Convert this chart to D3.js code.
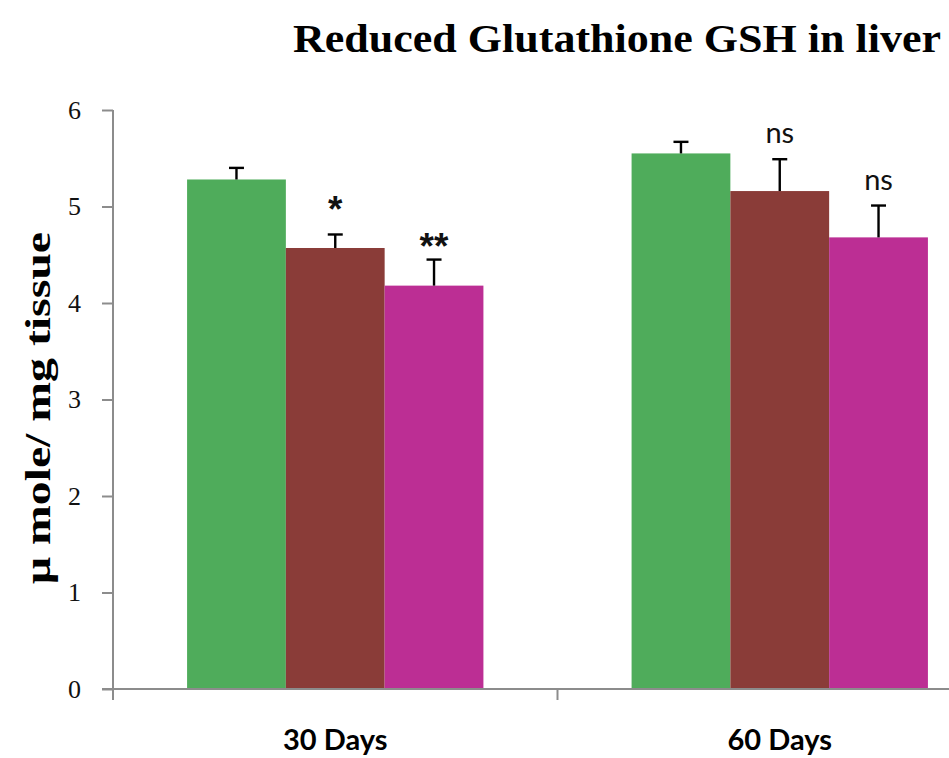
<!DOCTYPE html>
<html>
<head>
<meta charset="utf-8">
<script src="https://cdn.jsdelivr.net/npm/d3@7"></script>
<style>
  body { margin: 0; background: #fff; }
</style>
</head>
<body>
<svg id="canvas"></svg>
<script>
const periods = ["30 Days", "60 Days"];
const groups = ["g1", "g2", "g3"];
const meanValues = [
  [5.28, 4.57, 4.18],
  [5.55, 5.16, 4.68]
];
const errValues = [
  [0.12, 0.14, 0.27],
  [0.12, 0.33, 0.33]
];
const sigLabels = [
  ["", "*", "**"],
  ["", "ns", "ns"]
];
const yTicks = [0, 1, 2, 3, 4, 5, 6];
const colors = ["#4fac5b", "#8a3c38", "#bc2e94"];

const width = 949;
const height = 758;

const svg = d3.select("#canvas")
              .attr("width", width)
              .attr("height", height);

const x0 = d3.scaleBand()
             .domain(periods)
             .range([113, 1002])
             .paddingInner(0)
             .paddingOuter(0);

const x1 = d3.scaleBand()
             .domain(groups)
             .range([0, x0.bandwidth()])
             .paddingOuter(0.75);

const yScale = d3.scaleLinear()
                 .domain([0, 6])
                 .range([689, 110]);

// title
svg.append("text")
   .attr("x", 941)
   .attr("y", 52)
   .attr("text-anchor", "end")
   .attr("font-family", "Liberation Serif")
   .attr("font-weight", "bold")
   .attr("font-size", 41)
   .attr("textLength", 648)
   .attr("lengthAdjust", "spacingAndGlyphs")
   .text("Reduced Glutathione GSH in liver");

// y axis label
svg.append("text")
   .attr("transform", "translate(50, 408) rotate(-90)")
   .attr("text-anchor", "middle")
   .attr("font-family", "Liberation Serif")
   .attr("font-weight", "bold")
   .attr("font-size", 36)
   .attr("textLength", 352)
   .attr("lengthAdjust", "spacingAndGlyphs")
   .text("μ mole/ mg tissue");

// baseline offset above the error cap, per label type
const sigOffset = s => s === "*" ? 12 : s === "**" ? 1 : 16;

const gGroups = svg.selectAll(".period")
   .data(periods)
   .enter()
   .append("g")
   .attr("class", "period")
   .attr("transform", d => `translate(${x0(d)}, 0)`);

gGroups.each(function (p, i) {
  const g = d3.select(this);
  const rows = groups.map((k, j) => ({ k, j, v: meanValues[i][j], e: errValues[i][j], s: sigLabels[i][j] }));
  const cx = d => x1(d.k) + x1.bandwidth() / 2;

  g.selectAll("rect")
   .data(rows)
   .enter()
   .append("rect")
   .attr("x", d => x1(d.k))
   .attr("y", d => yScale(d.v))
   .attr("width", x1.bandwidth())
   .attr("height", d => yScale(0) - yScale(d.v))
   .attr("fill", d => colors[d.j]);

  // error bars (upper only)
  g.selectAll("line.err")
   .data(rows)
   .enter()
   .append("line")
   .attr("class", "err")
   .attr("x1", cx)
   .attr("x2", cx)
   .attr("y1", d => yScale(d.v))
   .attr("y2", d => yScale(d.v + d.e))
   .attr("stroke", "#000")
   .attr("stroke-width", 2.4);

  g.selectAll("line.cap")
   .data(rows)
   .enter()
   .append("line")
   .attr("class", "cap")
   .attr("x1", d => cx(d) - 7.5)
   .attr("x2", d => cx(d) + 7.5)
   .attr("y1", d => yScale(d.v + d.e))
   .attr("y2", d => yScale(d.v + d.e))
   .attr("stroke", "#000")
   .attr("stroke-width", 2.4);

  g.selectAll("text.sig")
   .data(rows.filter(d => d.s))
   .enter()
   .append("text")
   .attr("class", "sig")
   .attr("x", cx)
   .attr("y", d => yScale(d.v + d.e) - sigOffset(d.s))
   .attr("text-anchor", "middle")
   .attr("font-family", d => d.s === "ns" ? "Lato, sans-serif" : "Liberation Sans, sans-serif")
   .attr("font-weight", d => d.s === "ns" ? "normal" : "bold")
   .attr("font-size", d => d.s === "ns" ? 29 : 37)
   .attr("fill", "#111")
   .text(d => d.s);
});

// y axis
const yAxis = d3.axisLeft(yScale).tickValues(yTicks).tickFormat(d3.format("d")).tickSize(11).tickPadding(21);
const yG = svg.append("g")
   .attr("transform", "translate(113, 0)")
   .call(yAxis);
yG.select(".domain").attr("stroke", "#8c8c8c").attr("stroke-width", 2).attr("d", "M0,110V700");
yG.selectAll(".tick line").attr("stroke", "#8c8c8c").attr("stroke-width", 2);
yG.selectAll(".tick text")
  .attr("font-family", "Liberation Serif")
  .attr("font-size", 26)
  .attr("fill", "#111");

// x axis
const xAxis = d3.axisBottom(x0).tickSize(0).tickPadding(40);
const xG = svg.append("g")
   .attr("transform", "translate(0, 689)")
   .call(xAxis);
xG.select(".domain").attr("stroke", "#8c8c8c").attr("stroke-width", 2).attr("d", "M102,0H1002");
xG.selectAll(".tick text")
  .attr("font-family", "Lato, sans-serif")
  .attr("font-weight", "bold")
  .attr("font-size", 29)
  .attr("fill", "#000");

// category separators
xG.selectAll("line.sep")
  .data(periods)
  .enter()
  .append("line")
  .attr("class", "sep")
  .attr("x1", d => x0(d))
  .attr("x2", d => x0(d))
  .attr("y1", 0)
  .attr("y2", 11)
  .attr("stroke", "#8c8c8c")
  .attr("stroke-width", 2);
</script>
</body>
</html>
